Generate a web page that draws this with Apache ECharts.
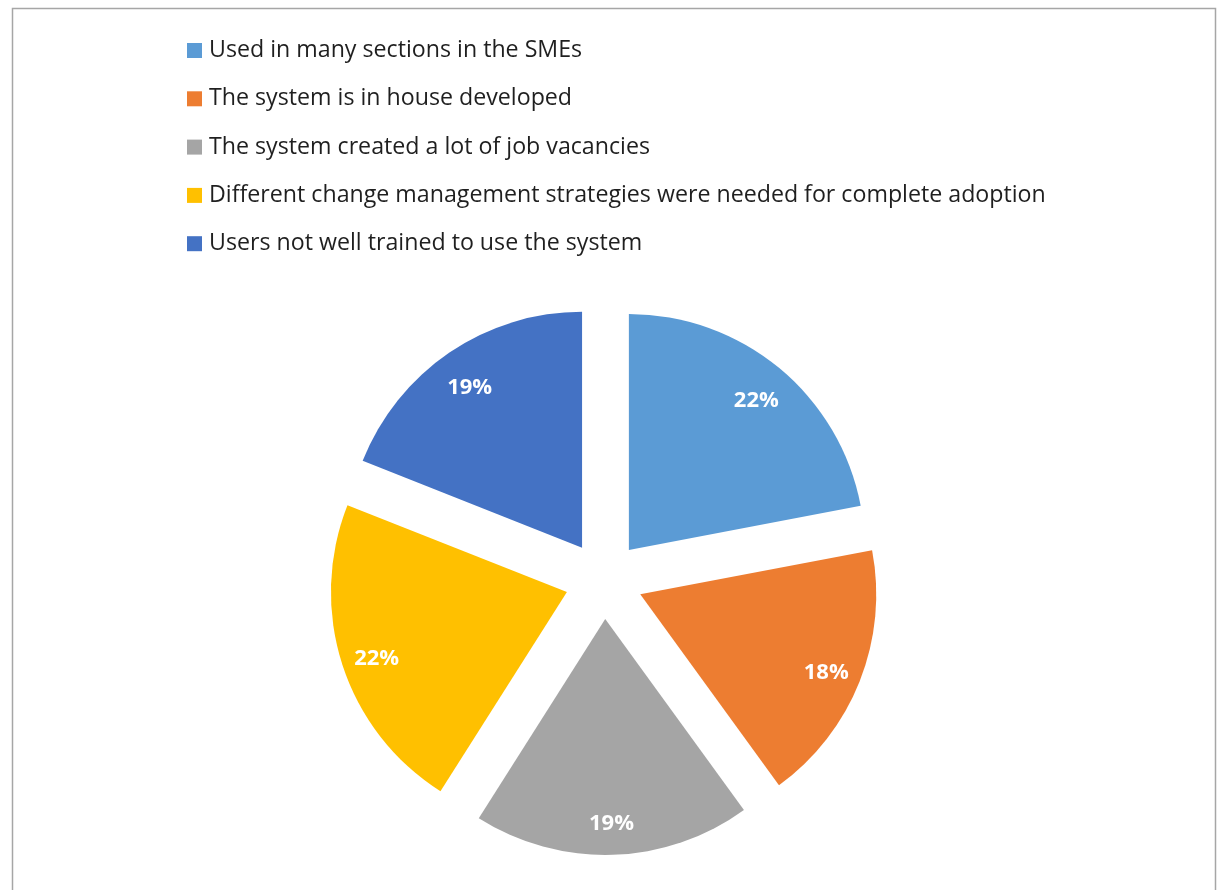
<!DOCTYPE html>
<html>
<head>
<meta charset="utf-8">
<script src="https://cdn.jsdelivr.net/npm/echarts@6/dist/echarts.min.js"></script>
<style>
html,body{margin:0;padding:0;background:#fff;}
#chart{width:1219px;height:890px;}
</style>
</head>
<body>
<div id="chart"></div>
<script>
const categories = [
  'Used in many sections in the SMEs',
  'The system is in house developed',
  'The system created a lot of job vacancies',
  'Different change management strategies were needed for complete adoption',
  'Users not well trained to use the system'
];
const values = [22, 18, 19, 22, 19];
const colors = ['#5B9BD5', '#ED7D31', '#A5A5A5', '#FFC000', '#4472C4'];

const chart = echarts.init(document.getElementById('chart'));
const pieData = categories.map((n, i) => ({ name: n, value: values[i], selected: true, itemStyle: { color: colors[i] } }));
const labelData = categories.map((n, i) => ({ name: n, value: values[i], selected: true }));

chart.setOption({
  animation: false,
  backgroundColor: '#ffffff',
  graphic: [{
    type: 'rect', silent: true, z: -1,
    shape: { x: 12.5, y: 8.5, width: 1203, height: 900 },
    style: { fill: 'none', stroke: '#a6a6a6', lineWidth: 1.5 }
  }],
  legend: {
    orient: 'vertical',
    left: 182,
    top: 34,
    padding: 5,
    itemWidth: 15,
    itemHeight: 15,
    itemGap: 25.3,
    data: categories,
    icon: 'rect',
    selectedMode: false,
    textStyle: { fontFamily: 'Open Sans', fontSize: 23.2, color: '#1f1f1f', lineHeight: 23, padding: [0, 0, 0, 2] }
  },
  series: [{
    type: 'pie',
    center: [604, 580],
    radius: 236,
    startAngle: 90,
    clockwise: true,
    selectedMode: 'multiple',
    selectedOffset: 39,
    silent: true,
    label: { show: false },
    labelLine: { show: false },
    data: pieData
  }, {
    type: 'pie',
    center: [604, 580],
    radius: [158, 236],
    startAngle: 90,
    clockwise: true,
    selectedMode: 'multiple',
    selectedOffset: 39,
    silent: true,
    itemStyle: { color: 'rgba(0,0,0,0)' },
    labelLayout: { dy: 5 },
    label: {
      show: true, position: 'inside',
      formatter: p => p.value + '%',
      color: '#ffffff', fontWeight: 'bold', fontSize: 22, fontFamily: 'Open Sans'
    },
    labelLine: { show: false },
    data: labelData
  }]
});
</script>
</body>
</html>
